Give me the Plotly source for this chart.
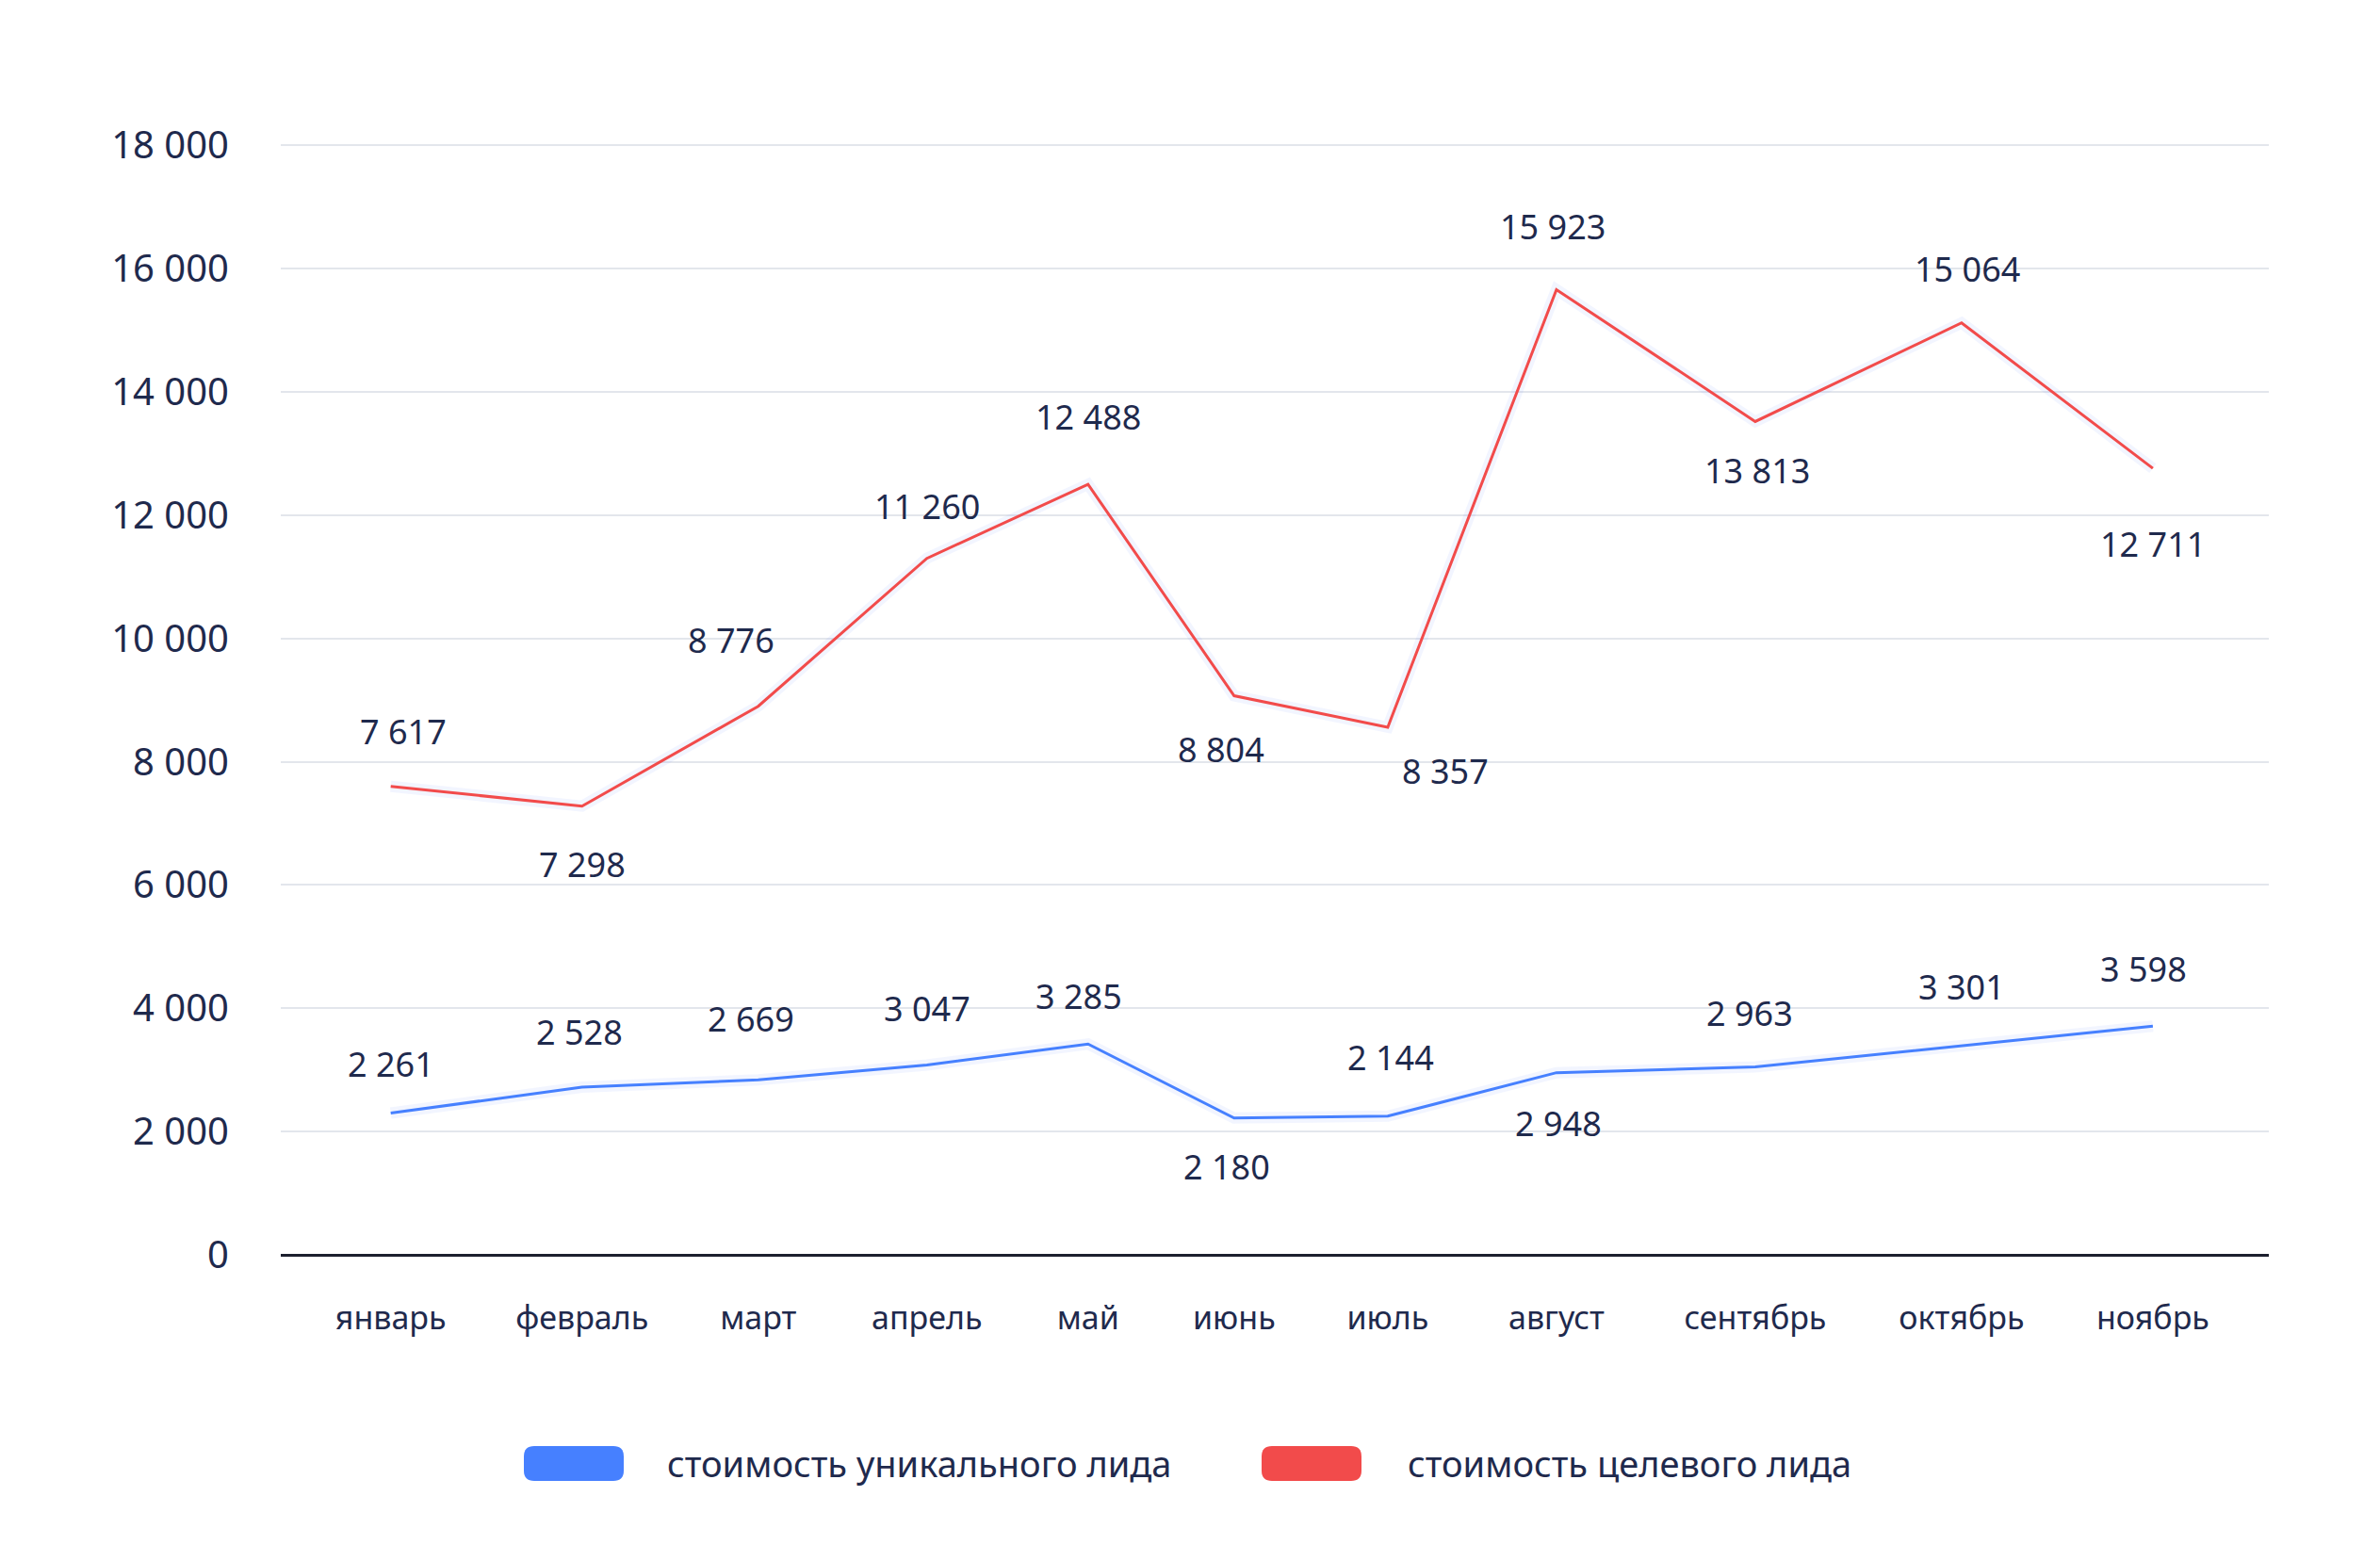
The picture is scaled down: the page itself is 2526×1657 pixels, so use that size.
import plotly.graph_objects as go

months = ["январь", "февраль", "март", "апрель", "май", "июнь",
          "июль", "август", "сентябрь", "октябрь", "ноябрь"]

# line heights as drawn in the picture
unique_cost = [2300, 2720, 2840, 3080, 3420, 2220, 2250, 2955, 3050, 3390, 3710]
target_cost = [7600, 7280, 8900, 11300, 12500, 9070, 8560, 15660, 13520, 15120, 12760]

# numbers printed next to the points
unique_labels = [2261, 2528, 2669, 3047, 3285, 2180, 2144, 2948, 2963, 3301, 3598]
target_labels = [7617, 7298, 8776, 11260, 12488, 8804, 8357, 15923, 13813, 15064, 12711]

y_ticks = list(range(0, 18001, 2000))

BLUE = "#4680ff"
RED = "#f24b4b"
INK = "#1f2a4d"
FONT = "Noto Sans"

# months sit in a flex row: spacing follows the width of each label
GAP = 6.2
month_x = [0.0]
for a, b in zip(months[:-1], months[1:]):
    month_x.append(month_x[-1] + (len(a) + len(b)) / 2 + GAP)

# label offsets in px (dx, dy up)
unique_shift = [(0, 52), (-3, 59), (-8, 65), (0, 60), (-10, 51), (-8, -52),
                (3, 62), (2, -54), (-6, 57), (0, 63), (-10, 61)]
target_shift = [(13, 58), (0, -62), (-29, 70), (0, 55), (0, 72), (-14, -57),
                (61, -47), (-4, 67), (2, -52), (6, 57), (0, -80)]


def fmt(v):
    return f"{v:,}".replace(",", " ")


fig = go.Figure()

for ys, color in [(unique_cost, BLUE), (target_cost, RED)]:
    # soft glow under the line
    fig.add_trace(go.Scatter(x=month_x, y=ys, mode="lines", hoverinfo="skip",
                             line=dict(color="rgba(70,110,255,0.07)", width=12),
                             showlegend=False))
    fig.add_trace(go.Scatter(x=month_x, y=ys, mode="lines",
                             line=dict(color=color, width=3), showlegend=False))

annotations = []
for ys, labels, shifts in [(unique_cost, unique_labels, unique_shift),
                           (target_cost, target_labels, target_shift)]:
    for x, y, lab, (dx, dy) in zip(month_x, ys, labels, shifts):
        annotations.append(dict(x=x, y=y, text=fmt(lab), showarrow=False,
                                xshift=dx, yshift=dy,
                                font=dict(family=FONT, size=36, color=INK)))

# legend drawn by hand: rounded swatches + text
PL, PT = 298, 153          # plot area left/top on the page
W, H = 2110, 1179


def rounded(x0, y0, x1, y1, r=11):
    rx, ry = r / W, r / H
    return (f"M {x0 + rx} {y0} L {x1 - rx} {y0} Q {x1} {y0} {x1} {y0 + ry} "
            f"L {x1} {y1 - ry} Q {x1} {y1} {x1 - rx} {y1} "
            f"L {x0 + rx} {y1} Q {x0} {y1} {x0} {y1 - ry} "
            f"L {x0} {y0 + ry} Q {x0} {y0} {x0 + rx} {y0} Z")


legend_items = [("стоимость уникального лида", BLUE, 556, 706),
                ("стоимость целевого лида", RED, 1339, 1492)]
shapes = []
bottom = PT + H
ly0, ly1 = (bottom - 1535) / H, (bottom - 1572) / H
for text, color, px, tx in legend_items:
    x0 = (px - PL) / W
    x1 = (px + 106 - PL) / W
    shapes.append(dict(type="path", xref="paper", yref="paper",
                       path=rounded(x0, ly1, x1, ly0),
                       fillcolor=color, line=dict(width=0)))
    annotations.append(dict(x=(tx - PL) / W, y=(bottom - 1553) / H,
                            xref="paper", yref="paper", xanchor="left",
                            yanchor="middle", showarrow=False, text=text,
                            font=dict(family=FONT, size=38, color=INK)))

# page body has an 8px margin, so pull the figure back by that much
fig.update_layout(
    width=2526, height=1657,
    margin=dict(l=PL - 8, r=2526 - PL - W + 8, t=PT - 8, b=1657 - PT - H + 8),
    paper_bgcolor="white", plot_bgcolor="white",
    separators=", ",
    showlegend=False,
    annotations=annotations,
    shapes=shapes,
    font=dict(family=FONT, color=INK),
    xaxis=dict(range=[-7.3, 124.7], tickvals=month_x, ticktext=months,
               showgrid=False, zeroline=False, showline=False, ticks="",
               ticklabelstandoff=44,
               tickfont=dict(family=FONT, size=34, color=INK)),
    yaxis=dict(range=[0, 18020], tickvals=y_ticks, tickformat=",d",
               showgrid=True, gridcolor="#e3e6ec", gridwidth=2,
               zeroline=True, zerolinecolor="#1c1f2e", zerolinewidth=3,
               showline=False, ticks="", ticklabelstandoff=54,
               tickfont=dict(family=FONT, size=40, color=INK)),
)

fig.write_html("out.html")
